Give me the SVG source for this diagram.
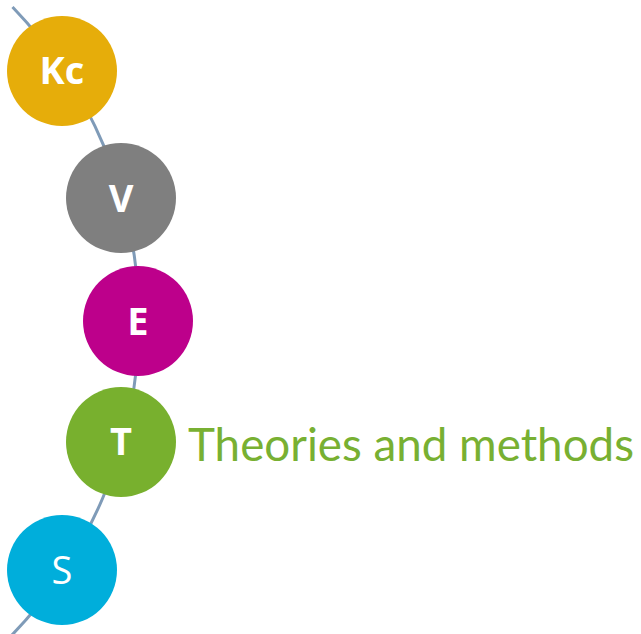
<svg xmlns="http://www.w3.org/2000/svg" width="641" height="634" viewBox="0 0 641 634">
<style>
.node text{font-family:"Open Sans","Liberation Sans",sans-serif;font-size:38px;font-weight:700;fill:#ffffff;text-anchor:middle}
.conn{fill:none;stroke:#7f9bb8;stroke-width:3}
.label{font-family:Lato,"Open Sans",sans-serif;font-size:46px;fill:#78b032}
</style>
<rect width="641" height="634" fill="#ffffff"/>
<g id="connectors">
<path class="conn" d="M12.5 7 A452.5 452.5 0 0 1 11 636"/>
</g>
<g id="node-kc" class="node"><circle cx="62" cy="71" r="55" fill="#e6ad0a"/><text x="62" y="84">Kc</text></g>
<g id="node-v" class="node"><circle cx="121" cy="198" r="55" fill="#7f7f7f"/><text x="121" y="212">V</text></g>
<g id="node-e" class="node"><circle cx="138" cy="321" r="55" fill="#bd008b"/><text x="138" y="335">E</text></g>
<g id="node-t" class="node"><circle cx="121" cy="442" r="55" fill="#78b02e"/><text x="121" y="455">T</text></g>
<g id="node-s" class="node"><circle cx="62" cy="570" r="55" fill="#00aedb"/><text x="62" y="584" style="font-weight:400">S</text></g>
<text class="label" x="188" y="461" textLength="446" lengthAdjust="spacingAndGlyphs">Theories and methods</text>
</svg>
